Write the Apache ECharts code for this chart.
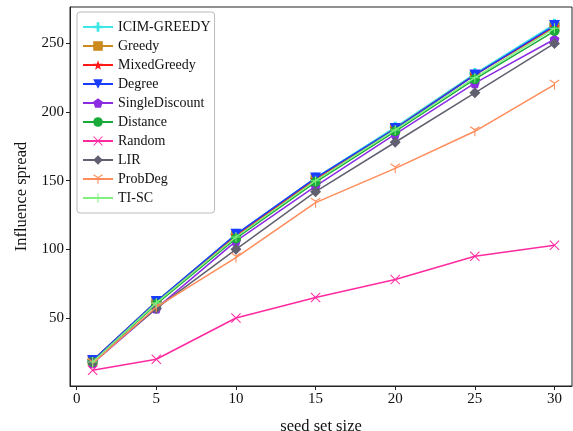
<!DOCTYPE html>
<html>
<head>
<meta charset="utf-8">
<script src="https://cdn.jsdelivr.net/npm/echarts@6/dist/echarts.min.js"></script>
<style>html,body{margin:0;padding:0;background:#fff;}#c{width:573px;height:431px;}</style>
</head>
<body>
<div id="c"></div>
<script>
const seedSizes = [1, 5, 10, 15, 20, 25, 30];
const xTicks = [0, 5, 10, 15, 20, 25, 30];
const yTicks = [50, 100, 150, 200, 250];
const seriesNames = ['ICIM-GREEDY','Greedy','MixedGreedy','Degree','SingleDiscount','Distance','Random','LIR','ProbDeg','TI-SC'];
const icimGreedy     = [19, 62, 111, 152, 189, 228, 264];
const greedy         = [19, 62, 110, 151, 188, 227, 262];
const mixedGreedy    = [19, 61, 110, 151, 188, 227, 262];
const degree         = [19, 62, 111, 152, 188, 227, 263];
const singleDiscount = [17, 57, 106, 146, 184, 221, 253];
const distance       = [18, 60, 108, 149, 186, 224, 259];
const randomSel      = [12, 20, 50, 65, 78, 95, 103];
const lir            = [18, 57, 100, 142, 178, 214, 250];
const probDeg        = [17, 58, 94, 134, 159, 186, 220];
const tiSc           = [18, 61, 109, 150, 187, 225, 261];
const values = [icimGreedy, greedy, mixedGreedy, degree, singleDiscount, distance, randomSel, lir, probDeg, tiSc];

const colors = ['#3EE6E6','#CC8A1E','#FF1A1A','#1A3CFF','#8B2BE2','#1AAA3A','#FF2AA0','#606070','#FF8C5A','#80F080'];
const S = {
  plusThick: 'path://M-1.4,-5H1.4V-1.4H5V1.4H1.4V5H-1.4V1.4H-5V-1.4H-1.4Z',
  square: 'rect',
  star: 'path://M0,-5L1.18,-1.62L4.76,-1.55L1.9,0.62L2.94,4.05L0,2L-2.94,4.05L-1.9,0.62L-4.76,-1.55L-1.18,-1.62Z',
  triDown: 'path://M-5,-4.3L5,-4.3L0,4.3Z',
  pentagon: 'path://M0,-5L4.76,-1.55L2.94,4.05L-2.94,4.05L-4.76,-1.55Z',
  circle: 'circle',
  x: 'path://M-5,-4.3L-4.3,-5L0,-0.7L4.3,-5L5,-4.3L0.7,0L5,4.3L4.3,5L0,0.7L-4.3,5L-5,4.3L-0.7,0Z',
  diamond: 'path://M0,-5L5,0L0,5L-5,0Z',
  tri1: 'path://M-0.5,0L-0.5,5L0.5,5L0.5,0L4.6,-2.4L4.1,-3.2L0,-0.9L-4.1,-3.2L-4.6,-2.4Z',
  plusThin: 'path://M-0.5,-5H0.5V-0.5H5V0.5H0.5V5H-0.5V0.5H-5V-0.5H-0.5Z'
};
const symbols = [S.plusThick, S.square, S.star, S.triDown, S.pentagon, S.circle, S.x, S.diamond, S.tri1, S.plusThin];
const sizes = [11, 10, 11, 11, 10, 10, 10, 11, 10, 10];

const series = seriesNames.map((n, i) => ({
  name: n,
  type: 'line',
  data: seedSizes.map((x, j) => [x, values[i][j]]),
  symbol: symbols[i],
  symbolSize: sizes[i],
  lineStyle: { color: colors[i], width: 1.5 },
  itemStyle: { color: colors[i] },
  showAllSymbol: true,
  z: 2 + i,
  animation: false
}));

const chart = echarts.init(document.getElementById('c'), null, { renderer: 'canvas' });
chart.setOption({
  animation: false,
  backgroundColor: '#fff',
  grid: { left: 70, right: 1, top: 7, bottom: 45, show: true, borderColor: '#222', borderWidth: 1, containLabel: false, outerBoundsMode: 'none' },
  legend: {
    orient: 'vertical', left: 77, top: 12,
    itemWidth: 30, itemHeight: 12, itemGap: 5,
    padding: [8, 4, 8, 5],
    borderColor: '#bbb', borderWidth: 1, borderRadius: 3,
    textStyle: { fontFamily: 'Liberation Serif', fontSize: 14, color: '#111' },
    data: seriesNames
  },
  xAxis: {
    type: 'value', min: -0.42, max: 31.1,
    name: 'seed set size', nameLocation: 'middle', nameGap: 32,
    nameTextStyle: { fontFamily: 'Liberation Serif', fontSize: 16.5, color: '#111' },
    axisLine: { show: true, onZero: false, lineStyle: { color: '#222', width: 1 } },
    axisTick: { show: true, length: 4, lineStyle: { color: '#222' }, customValues: xTicks },
    axisLabel: { fontFamily: 'Liberation Serif', fontSize: 15, color: '#111', margin: 6, customValues: xTicks },
    splitLine: { show: false }
  },
  yAxis: {
    type: 'value', min: 0.5, max: 276.5,
    name: 'Influence spread', nameLocation: 'middle', nameGap: 40,
    nameTextStyle: { fontFamily: 'Liberation Serif', fontSize: 16.5, color: '#111' },
    axisLine: { show: true, onZero: false, lineStyle: { color: '#222', width: 1 } },
    axisTick: { show: true, length: 4, lineStyle: { color: '#222' }, customValues: yTicks },
    axisLabel: { fontFamily: 'Liberation Serif', fontSize: 15, color: '#111', margin: 6, customValues: yTicks },
    splitLine: { show: false }
  },
  series: series
});
</script>
</body>
</html>
